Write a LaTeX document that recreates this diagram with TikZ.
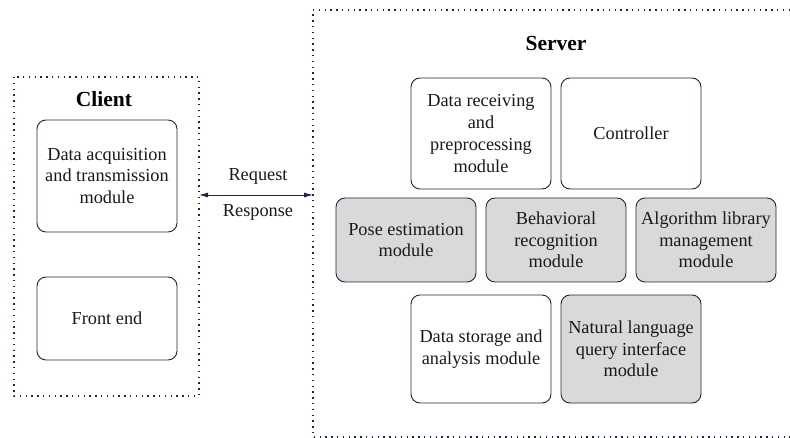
\documentclass[tikz,border=0pt]{standalone}
\usepackage{fontspec}
\setmainfont{Liberation Serif}
\newfontfamily\diagfont{Liberation Serif}
\usetikzlibrary{arrows.meta}
\definecolor{edge}{HTML}{1E2640}
\definecolor{shade}{HTML}{D9D9D9}
\tikzset{
  group/.style={draw=edge, line width=1.1pt, dash pattern=on 1.4pt off 4.4pt},
  module/.style={draw=edge, line width=0.9pt, rounded corners=9pt, fill=white,
    minimum width=140pt, align=center, inner sep=2pt,
    font=\diagfont\fontsize{18.3}{21.7}\selectfont, text=black!90},
  grey/.style={module, fill=shade},
  title/.style={font=\diagfont\fontsize{21.5}{24}\selectfont\bfseries, text=black},
  lbl/.style={font=\diagfont\fontsize{18.3}{21}\selectfont, text=black!90},
}
\begin{document}
\begin{tikzpicture}[x=1pt, y=-1pt]
\useasboundingbox (0,0) rectangle (790,438);

% client group, and the server group running past the right margin
\draw[group] (14,77) rectangle (199,396);
\draw[group] (790,10) -- (313,10) -- (313,437) -- (790,437);
\node[title] (client) at (104,99) {Client};
\node[title] (server) at (556,43) {Server};

% client modules
\node[module, minimum height=112pt] (acq) at (107,176) {Data acquisition\\and transmission\\module};
\node[module, minimum height=83pt] (front) at (107,318.5) {Front end};

% server modules
\node[module, minimum height=111pt] (recv) at (481,133.5) {Data receiving\\and\\preprocessing\\module};
\node[module, minimum height=111pt] (ctrl) at (631,133.5) {Controller};
\node[grey, minimum height=84pt] (pose) at (406,240) {Pose estimation\\module};
\node[grey, minimum height=84pt] (behav) at (556,240) {Behavioral\\recognition\\module};
\node[grey, minimum height=84pt] (algo) at (706,240) {Algorithm library\\management\\module};
\node[module, minimum height=108pt] (store) at (481,349) {Data storage and\\analysis module};
\node[grey, minimum height=108pt] (nlq) at (631,349) {Natural language\\query interface\\module};

% request / response link between the groups
\coordinate (cside) at (199,195);
\coordinate (sside) at (313,195);
\draw[edge, line width=0.9pt, {Latex[length=9pt,width=5pt]}-{Latex[length=9pt,width=5pt]}] (cside) -- (sside);
\node[lbl] (req) at (258,176) {Request};
\node[lbl] (resp) at (258,212) {Response};
\end{tikzpicture}
\end{document}
